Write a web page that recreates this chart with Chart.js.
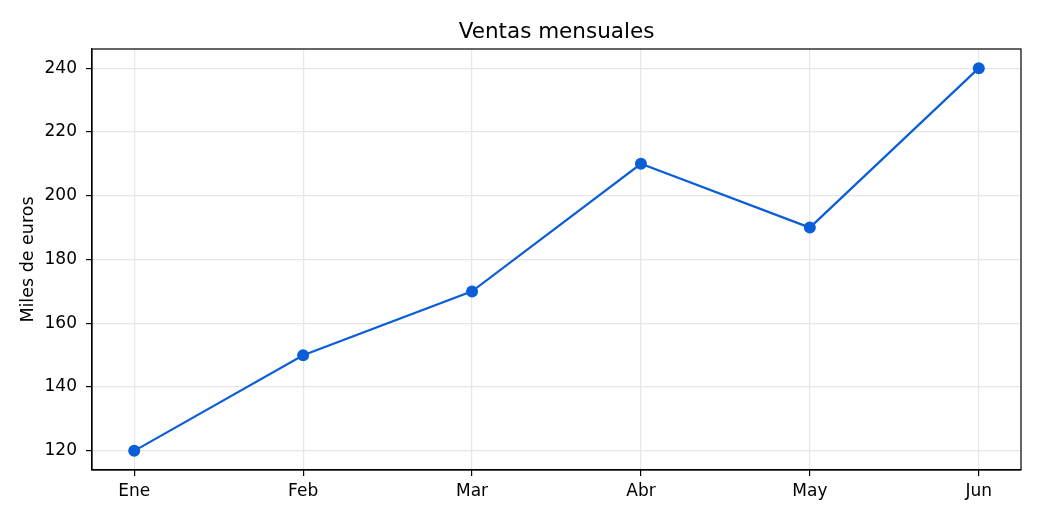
<!DOCTYPE html>
<html>
<head>
<meta charset="utf-8">
<script src="https://cdn.jsdelivr.net/npm/chart.js@4/dist/chart.umd.min.js"></script>
<style>
  html, body { margin: 0; padding: 0; background: #fff; }
  canvas { display: block; }
</style>
</head>
<body>
<canvas id="linechart" width="1040" height="520"></canvas>
<script>
const lineChartCanvas = document.getElementById("linechart");
const lineChartCtx    = lineChartCanvas.getContext('2d');

const blue = "#0b5ed7";
const gridGray = "#e6e6e6";

// data
const months = ["Ene", "Feb", "Mar", "Abr", "May", "Jun"];
const sales  = [120, 150, 170, 210, 190, 240];
const yTicks = [120, 140, 160, 180, 200, 220, 240];

const fontFamily = "'DejaVu Sans', sans-serif";

// full frame around the plot (matplotlib style)
const framePlugin = {
  id: 'frame',
  afterDraw(chart) {
    const { ctx, chartArea: a } = chart;
    ctx.save();
    ctx.strokeStyle = "#000";
    ctx.lineWidth = 1.2;
    ctx.strokeRect(a.left, a.top, a.right - a.left, a.bottom - a.top);
    ctx.restore();
  }
};

const lineChartConfig = {
  type: 'line',
  data: {
    datasets: [{
      data: sales.map((v, i) => ({ x: i, y: v })),
      borderColor: blue,
      backgroundColor: blue,
      borderWidth: 2.2,
      pointRadius: 6,
      pointHoverRadius: 6,
      pointBorderWidth: 0,
      tension: 0
    }]
  },
  options: {
    responsive: false,
    devicePixelRatio: 1,
    animation: false,
    layout: { padding: { top: 0, right: 19, bottom: 0, left: 0 } },
    plugins: {
      legend: { display: false },
      tooltip: { enabled: false }
    },
    scales: {
      // top axis only carries the title, so it is centred over the plot
      top: {
        type: 'linear',
        position: 'top',
        min: -0.25,
        max: 5.25,
        afterFit: (s) => { s.height = 49; },
        ticks: { display: false },
        grid: { display: false, drawTicks: false },
        border: { display: false },
        title: {
          display: true,
          text: 'Ventas mensuales',
          color: '#000',
          font: { family: fontFamily, size: 21.5, weight: 'normal' },
          padding: { top: 20, bottom: 0 }
        }
      },
      x: {
        type: 'linear',
        min: -0.25,
        max: 5.25,
        afterBuildTicks: (s) => { s.ticks = months.map((m, i) => ({ value: i })); },
        afterFit: (s) => { s.height = 50; },
        ticks: {
          color: '#000',
          font: { family: fontFamily, size: 17 },
          padding: 5,
          callback: (v) => months[v]
        },
        grid: { color: gridGray, tickColor: '#000', tickLength: 6, lineWidth: 1.2 },
        border: { color: '#000', width: 1.2 }
      },
      y: {
        min: 114,
        max: 246,
        afterBuildTicks: (s) => { s.ticks = yTicks.map(v => ({ value: v })); },
        afterFit: (s) => { s.width = 92; },
        ticks: {
          color: '#000',
          font: { family: fontFamily, size: 17 },
          padding: 9
        },
        grid: { color: gridGray, tickColor: '#000', tickLength: 6, lineWidth: 1.2 },
        border: { color: '#000', width: 1.2 },
        title: {
          display: true,
          text: 'Miles de euros',
          color: '#000',
          font: { family: fontFamily, size: 17.5 },
          padding: { top: 18, bottom: 0 }
        }
      }
    }
  },
  plugins: [framePlugin]
};

const lineChart = new Chart(lineChartCtx, lineChartConfig);
</script>
</body>
</html>
